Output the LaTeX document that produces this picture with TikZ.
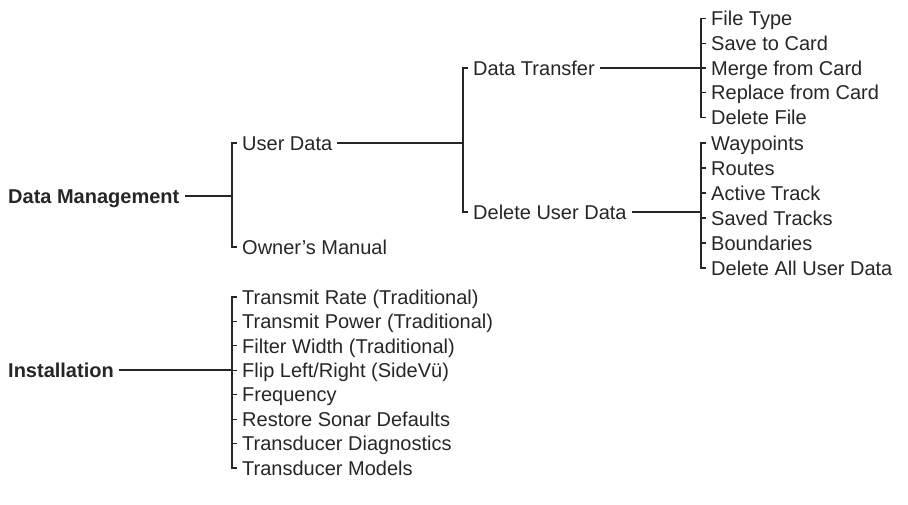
\documentclass[tikz,border=0pt]{standalone}
\usepackage{fontspec}
\setmainfont{Liberation Sans}
\usepackage{tikz}
\usetikzlibrary{positioning}
\definecolor{menuink}{RGB}{38,38,38}

\tikzset{
  item/.style={anchor=west, inner xsep=5pt, inner ysep=0pt, text height=14.3pt,
    text depth=0pt, text=menuink, font=\fontsize{20}{24}\selectfont},
  head/.style={item, font=\fontsize{20}{24}\selectfont\bfseries},
  conn/.style={draw=menuink, line width=1.2pt}
}

\begin{document}
\begin{tikzpicture}[x=1pt, y=-1pt]
  \useasboundingbox (0,0) rectangle (908,504);
  % top level
  \node[head] (dm) at (3,196) {Data Management};
  \node[head] (inst) at (3,370) {Installation};
  % data management branch
  \node[item] (ud) at (237,143) {User Data};
  \node[item] (om) at (237,247) {Owner’s Manual};
  \node[item] (dt) at (468,68) {Data Transfer};
  \node[item] (dud) at (468,212) {Delete User Data};
  \foreach \name/\txt [count=\i from 0] in {ft/File Type, sc/Save to Card,
      mc/Merge from Card, rc/Replace from Card, df/Delete File}
    \node[item] (\name) at (706,{18.5+\i*24.75}) {\txt};
  \foreach \name/\txt [count=\i from 0] in {wp/Waypoints, rt/Routes,
      at/Active Track, st/Saved Tracks, bd/Boundaries, da/Delete All User Data}
    \node[item] (\name) at (706,{143+\i*25}) {\txt};
  % installation branch
  \foreach \name/\txt [count=\i from 0] in {tr/Transmit Rate (Traditional),
      tp/Transmit Power (Traditional), fw/Filter Width (Traditional),
      fl/{Flip Left/Right (SideVü)}, fq/Frequency, rs/Restore Sonar Defaults,
      td/Transducer Diagnostics, tm/Transducer Models}
    \node[item] (\name) at (237,{297+\i*24.43}) {\txt};

  % brackets
  \draw[conn] (ud.west) -- ++(-5,0) |- (om.west);
  \draw[conn] (dm.east) -- ([xshift=-5pt]ud.west |- dm.east);
  \draw[conn] (dt.west) -- ++(-5,0) |- (dud.west);
  \draw[conn] (ud.east) -- ([xshift=-5pt]dt.west |- ud.east);
  \draw[conn] (ft.west) -- ++(-5,0) |- (df.west);
  \foreach \name in {sc,mc,rc}
    \draw[conn] (\name.west) -- ++(-5,0);
  \draw[conn] (dt.east) -- ([xshift=-5pt]ft.west |- dt.east);
  \draw[conn] (wp.west) -- ++(-5,0) |- (da.west);
  \foreach \name in {rt,at,st,bd}
    \draw[conn] (\name.west) -- ++(-5,0);
  \draw[conn] (dud.east) -- ([xshift=-5pt]wp.west |- dud.east);
  \draw[conn] (tr.west) -- ++(-5,0) |- (tm.west);
  \foreach \name in {tp,fw,fl,fq,rs,td}
    \draw[conn] (\name.west) -- ++(-5,0);
  \draw[conn] (inst.east) -- ([xshift=-5pt]tr.west |- inst.east);
\end{tikzpicture}
\end{document}
